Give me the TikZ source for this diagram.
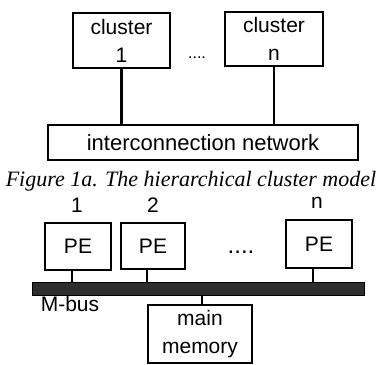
\documentclass[tikz,border=0pt]{standalone}
\usepackage{fontspec}
\setmainfont{Liberation Sans}
\newfontfamily\capfont{Liberation Serif}
\usetikzlibrary{positioning}

\begin{document}
\begin{tikzpicture}[
    x=1pt, y=-1pt,
    box/.style={
      draw, line width=2.4pt, inner sep=0pt, align=center,
      font=\fontsize{21}{28}\selectfont
    },
    lbl/.style={inner sep=0pt, font=\fontsize{21}{25}\selectfont},
    wire/.style={line width=2.2pt},
    bus/.style={draw, fill=black!82, line width=1pt, inner sep=0pt},
    dots/.style={inner sep=0pt}
  ]
    \useasboundingbox (0,0) rectangle (380,364);

    % Clusters and the network (upper part)
    \node[box, minimum width=97pt, minimum height=55pt] (c1)  at (121.5,40.5) {cluster\\1};
    \node[box, minimum width=98pt, minimum height=54pt] (cn)  at (274,39)     {cluster\\n};
    \node[box, minimum width=310pt, minimum height=35pt,
          font=\fontsize{22}{26}\selectfont]            (net) at (203,142.5)  {interconnection network};
    \node[dots, font=\fontsize{16}{16}\selectfont]      (d1)  at (197,58)     {....};

    \draw[wire] (c1.south) -- (c1.south |- net.north);
    \draw[wire] (cn.south) -- (cn.south |- net.north);

    \node[inner sep=0pt, font=\capfont\itshape\fontsize{22}{22}\selectfont]
                                 (cap) at (191,181) {Figure 1a. The hierarchical cluster model};

    % PEs on the M-bus (lower part)
    \node[box, minimum width=66pt, minimum height=47pt] (pe1) at (78,246.5) {PE};
    \node[box, minimum width=64pt, minimum height=46pt] (pe2) at (153,246)  {PE};
    \node[box, minimum width=66pt, minimum height=48pt] (pen) at (319,244)  {PE};
    \node[dots, font=\fontsize{24}{24}\selectfont]      (d2)  at (241,252)  {....};

    \node[lbl] (n1) at (77,205)  {1};
    \node[lbl] (n2) at (153,205) {2};
    \node[lbl] (nn) at (317,203) {n};

    \node[bus, minimum width=332pt, minimum height=13pt] (mbus) at (198,288.5) {};
    \node[lbl] (mlbl) at (70,304) {M-bus};

    \node[box, minimum width=104pt, minimum height=58pt] (mem) at (200,334) {main\\memory};

    \draw[wire] ([xshift=-6pt]pe1.south) -- ([xshift=-6pt]pe1.south |- mbus.north);
    \draw[wire] ([xshift=-6pt]pe2.south) -- ([xshift=-6pt]pe2.south |- mbus.north);
    \draw[wire] ([xshift=-6pt]pen.south) -- ([xshift=-6pt]pen.south |- mbus.north);
    \draw[wire] ([xshift=2pt]mem.north)  -- ([xshift=2pt]mem.north |- mbus.south);
\end{tikzpicture}
\end{document}
